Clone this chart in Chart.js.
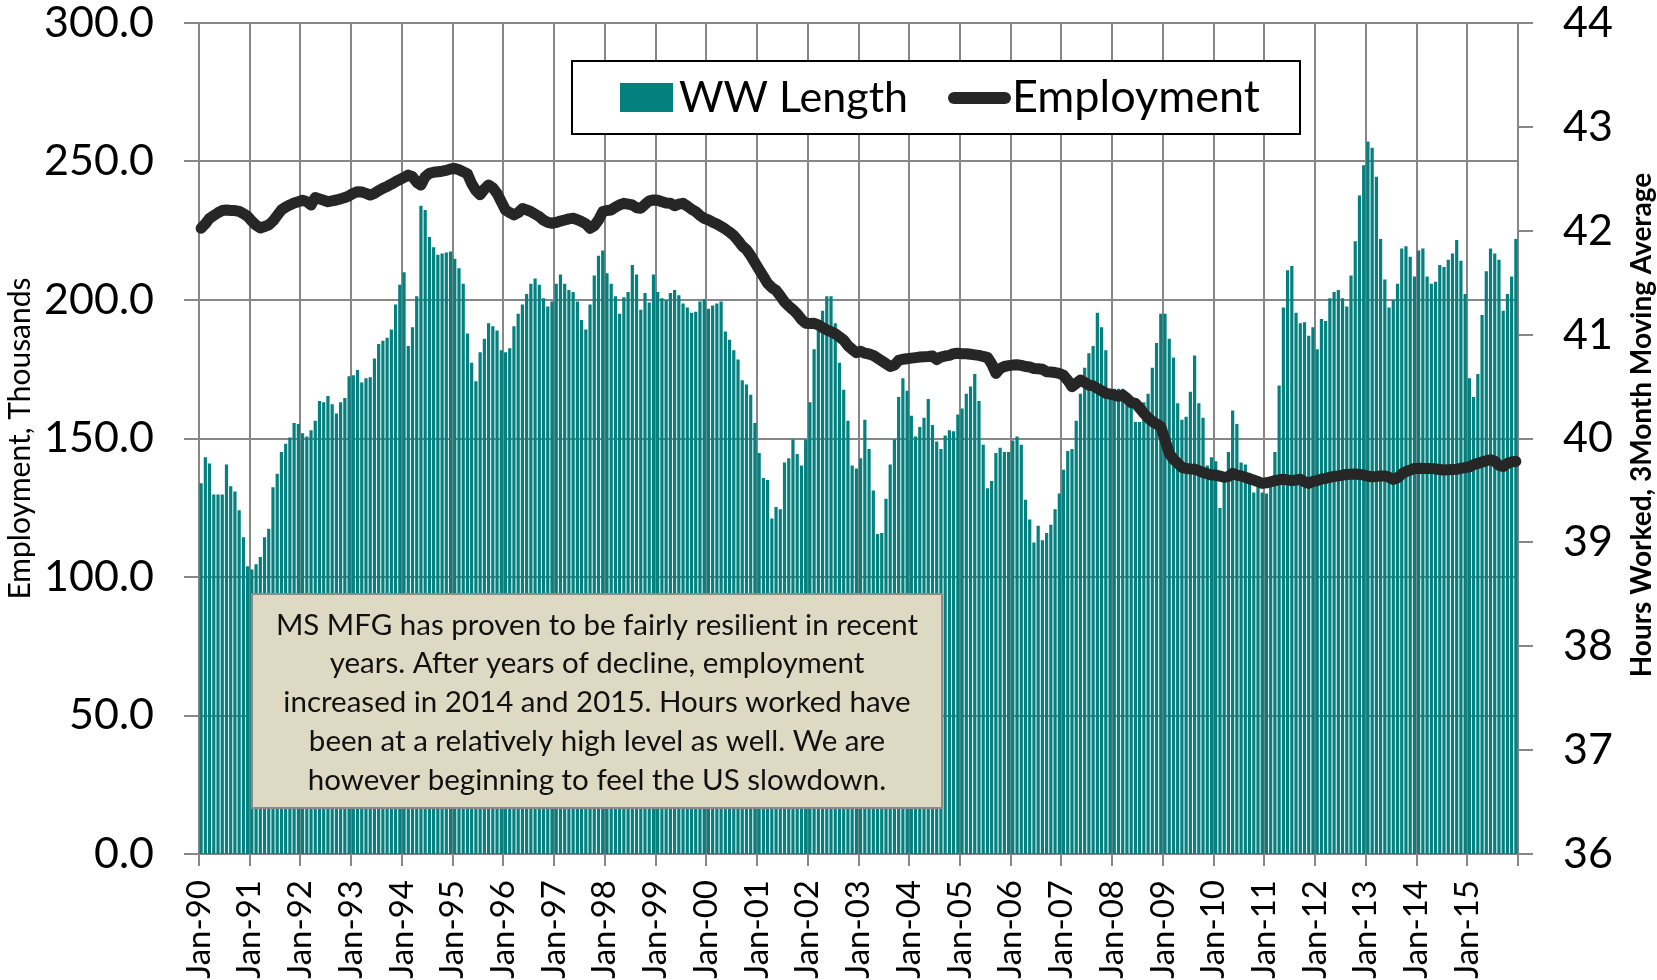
<!DOCTYPE html>
<html>
<head>
<meta charset="utf-8">
<script src="https://cdn.jsdelivr.net/npm/chart.js@4.4.1/dist/chart.umd.min.js"></script>
<style>
  html, body { margin: 0; padding: 0; background: #fff; }
  #wrap { width: 1657px; height: 980px; }
</style>
</head>
<body>
<div id="wrap"><canvas id="chart" width="1657" height="980"></canvas></div>
<script>
// months x years -> one bar per month, Jan-90 .. Dec-15
const monthNames = ["Jan", "Feb", "Mar", "Apr", "May", "Jun", "Jul", "Aug", "Sep", "Oct", "Nov", "Dec"]
const yearLabels = ["90", "91", "92", "93", "94", "95", "96", "97", "98", "99", "00", "01", "02",
  "03", "04", "05", "06", "07", "08", "09", "10", "11", "12", "13", "14", "15"]
const tickLabels = yearLabels.map(y => "Jan-" + y)
const categories = yearLabels.flatMap(y => monthNames.map(m => m + "-" + y))

// WW Length: hours worked, 3 month moving average (right axis)
const hoursWorked = [
  39.57, 39.82, 39.76, 39.46, 39.46, 39.46, 39.75, 39.54, 39.49, 39.31, 39.05, 38.77,
  38.74, 38.79, 38.86, 39.05, 39.13, 39.53, 39.66, 39.87, 39.95, 40.01, 40.15, 40.14,
  40.05, 40.02, 40.08, 40.17, 40.36, 40.35, 40.41, 40.33, 40.24, 40.35, 40.39, 40.60,
  40.61, 40.66, 40.54, 40.58, 40.59, 40.77, 40.91, 40.94, 40.97, 41.05, 41.29, 41.48,
  41.60, 40.89, 41.07, 41.37, 42.24, 42.20, 41.94, 41.84, 41.77, 41.78, 41.79, 41.80,
  41.73, 41.64, 41.49, 41.01, 40.73, 40.55, 40.83, 40.96, 41.11, 41.08, 41.04, 40.85,
  40.83, 40.87, 41.08, 41.20, 41.29, 41.39, 41.49, 41.54, 41.48, 41.35, 41.27, 41.32,
  41.49, 41.58, 41.49, 41.43, 41.41, 41.32, 41.14, 41.05, 41.29, 41.57, 41.76, 41.81,
  41.59, 41.49, 41.37, 41.20, 41.36, 41.41, 41.67, 41.58, 41.24, 41.40, 41.31, 41.58,
  41.41, 41.35, 41.33, 41.40, 41.43, 41.38, 41.30, 41.26, 41.21, 41.22, 41.32, 41.34,
  41.25, 41.28, 41.30, 41.32, 41.03, 40.95, 40.85, 40.76, 40.56, 40.52, 40.42, 40.15,
  39.86, 39.62, 39.60, 39.23, 39.34, 39.32, 39.77, 39.81, 39.99, 39.85, 39.74, 39.99,
  40.35, 40.86, 41.04, 41.23, 41.37, 41.37, 41.11, 40.73, 40.47, 40.17, 39.74, 39.71,
  39.81, 40.18, 39.90, 39.50, 39.08, 39.09, 39.42, 39.75, 39.99, 40.40, 40.58, 40.46,
  40.22, 40.02, 40.11, 40.20, 40.38, 40.13, 39.97, 39.90, 40.03, 40.08, 40.07, 40.23,
  40.29, 40.43, 40.50, 40.62, 40.36, 39.94, 39.52, 39.59, 39.86, 39.91, 39.87, 39.87,
  39.98, 40.02, 39.94, 39.41, 39.22, 39.00, 39.16, 39.02, 39.09, 39.17, 39.32, 39.47,
  39.70, 39.88, 39.90, 40.17, 40.43, 40.68, 40.82, 40.89, 41.21, 41.07, 40.85, 40.48,
  40.48, 40.48, 40.48, 40.40, 40.31, 40.16, 40.16, 40.35, 40.43, 40.68, 40.92, 41.20,
  41.20, 40.96, 40.78, 40.34, 40.18, 40.21, 40.45, 40.80, 40.34, 40.20, 39.74, 39.82,
  39.78, 39.33, 39.60, 39.87, 40.27, 40.14, 39.77, 39.75, 39.67, 39.48, 39.60, 39.48,
  39.47, 39.54, 39.87, 40.51, 41.26, 41.62, 41.66, 41.21, 41.11, 41.12, 40.99, 41.07,
  40.86, 41.15, 41.13, 41.35, 41.41, 41.43, 41.35, 41.27, 41.57, 41.90, 42.34, 42.63,
  42.86, 42.80, 42.52, 41.92, 41.53, 41.26, 41.33, 41.49, 41.83, 41.85, 41.75, 41.56,
  41.81, 41.83, 41.56, 41.49, 41.51, 41.67, 41.65, 41.72, 41.78, 41.91, 41.71, 41.39,
  40.58, 40.40, 40.62, 41.19, 41.61, 41.83, 41.78, 41.72, 41.23, 41.39, 41.56, 41.92
]

// Employment, thousands (left axis)
const employment = [
  225.9, 227.5, 229.5, 230.5, 231.5, 232.3, 232.5, 232.3, 232.3, 232.0, 231.2, 230.2,
  228.5, 227.0, 226.0, 226.5, 227.1, 228.5, 230.5, 232.5, 233.5, 234.3, 235.0, 235.5,
  236.0, 235.5, 234.3, 237.0, 236.5, 236.0, 235.5, 235.8, 236.1, 236.5, 237.0, 237.6,
  238.5, 239.1, 239.0, 238.5, 237.9, 238.5, 239.5, 240.3, 241.0, 241.8, 242.7, 243.5,
  244.3, 245.1, 244.5, 242.5, 241.5, 244.5, 245.7, 246.1, 246.3, 246.5, 246.8, 247.3,
  247.5, 247.0, 246.3, 245.5, 242.0, 239.5, 238.0, 240.0, 241.5, 240.5, 238.5, 235.5,
  232.5, 231.5, 230.7, 231.5, 233.0, 232.5, 231.9, 231.0, 230.1, 228.8, 228.0, 227.7,
  228.0, 228.5, 228.9, 229.3, 229.5, 229.0, 228.3, 227.5, 225.9, 226.8, 228.9, 231.9,
  232.3, 232.5, 233.5, 234.3, 234.9, 234.6, 234.3, 233.3, 233.1, 234.5, 235.8, 236.1,
  236.0, 235.5, 235.0, 234.9, 234.0, 234.6, 234.9, 233.9, 232.8, 231.9, 230.5, 229.5,
  228.9, 228.1, 227.4, 226.5, 225.6, 224.5, 223.3, 221.5, 219.5, 218.2, 216.0, 213.5,
  211.0, 208.5, 206.0, 204.5, 203.5, 201.5, 199.3, 197.8, 196.5, 195.0, 193.0, 191.6,
  191.5, 191.6, 191.0, 190.0, 189.2, 188.5, 187.8, 186.7, 185.5, 183.5, 182.2, 181.0,
  181.5, 180.8, 180.5, 180.0, 179.0, 178.0, 177.0, 176.0, 176.5, 178.2, 178.6, 178.8,
  179.0, 179.2, 179.4, 179.5, 179.6, 179.8, 178.5, 179.4, 179.8, 180.0, 180.6, 180.8,
  180.6, 180.6, 180.4, 180.2, 180.0, 179.6, 179.3, 177.0, 173.5, 175.3, 176.0, 176.3,
  176.5, 176.6, 176.4, 176.0, 175.8, 175.3, 175.2, 175.0, 174.1, 174.0, 173.8, 173.5,
  172.8, 171.0, 168.7, 169.9, 171.1, 170.2, 169.3, 169.0, 168.1, 167.2, 166.3, 166.0,
  165.7, 165.2, 165.7, 164.5, 163.0, 162.7, 161.0, 159.1, 157.5, 156.1, 155.2, 154.3,
  149.5, 144.7, 142.5, 141.1, 139.6, 139.2, 139.0, 138.9, 138.4, 137.7, 137.3, 136.8,
  136.8, 136.4, 136.0, 136.3, 137.4, 136.8, 136.5, 136.0, 135.4, 135.0, 134.4, 133.8,
  134.0, 134.4, 134.8, 135.1, 135.3, 135.0, 134.8, 135.0, 135.3, 134.4, 133.8, 134.5,
  134.8, 135.3, 135.6, 136.0, 136.3, 136.5, 136.8, 137.0, 137.1, 137.2, 137.0, 136.8,
  136.4, 136.2, 136.3, 136.5, 136.5, 136.0, 135.2, 135.8, 137.2, 138.0, 138.6, 139.2,
  139.3, 139.2, 139.2, 139.2, 139.0, 138.8, 138.6, 138.7, 138.8, 138.9, 139.2, 139.5,
  139.8, 140.6, 141.0, 141.5, 142.0, 142.3, 141.8, 140.3, 139.9, 141.0, 141.6, 141.7
]

const noteLines = [
  "MS MFG has proven to be fairly resilient in recent",
  "years. After years of decline, employment",
  "increased in 2014 and 2015. Hours worked have",
  "been at a relatively high level as well. We are",
  "however beginning to feel the US slowdown."
]

const gridColor = "#878787"
const fontFamily = "Lato, 'Open Sans', sans-serif"

// legend drawn inside the plot with a black frame, like the original
const boxLegend = {
  id: "boxLegend",
  afterDraw(chart, args, opts) {
    const ctx = chart.ctx
    const [bars, line] = chart.data.datasets
    ctx.save()
    ctx.fillStyle = "#fff"
    ctx.fillRect(opts.left, opts.top, opts.width, opts.height)
    ctx.strokeStyle = "#000"
    ctx.lineWidth = 2
    ctx.strokeRect(opts.left, opts.top, opts.width, opts.height)

    ctx.textBaseline = "alphabetic"
    ctx.fillStyle = bars.backgroundColor
    ctx.fillRect(620, 83, 53, 29)
    ctx.fillStyle = "#000"
    ctx.font = "43px " + fontFamily
    ctx.fillText(bars.label, 679, 112)

    ctx.strokeStyle = line.borderColor
    ctx.lineWidth = 12
    ctx.lineCap = "round"
    ctx.beginPath()
    ctx.moveTo(954, 98)
    ctx.lineTo(1005, 98)
    ctx.stroke()
    ctx.font = "45px " + fontFamily
    ctx.fillText(line.label, 1012, 112)
    ctx.restore()
  }
}

// commentary box
const noteBox = {
  id: "noteBox",
  afterDraw(chart, args, opts) {
    const ctx = chart.ctx
    ctx.save()
    ctx.fillStyle = "#ddd9c3"
    ctx.fillRect(opts.left, opts.top, opts.width, opts.height)
    ctx.strokeStyle = "#8c8c8c"
    ctx.lineWidth = 2
    ctx.strokeRect(opts.left, opts.top, opts.width, opts.height)
    ctx.fillStyle = "#111"
    ctx.font = "29.5px " + fontFamily
    ctx.textAlign = "center"
    ctx.textBaseline = "middle"
    const cx = opts.left + opts.width / 2
    noteLines.forEach((t, i) => ctx.fillText(t, cx, opts.top + 31 + i * 38.8))
    ctx.restore()
  }
}

// right axis title reads bottom-to-top in the original
const rightTitle = {
  id: "rightTitle",
  afterDraw(chart, args, opts) {
    const ctx = chart.ctx
    ctx.save()
    ctx.translate(opts.x, opts.y)
    ctx.rotate(-Math.PI / 2)
    ctx.font = "bold 28px " + fontFamily
    ctx.fillStyle = "#000"
    ctx.textAlign = "center"
    ctx.textBaseline = "middle"
    ctx.fillText(opts.text, 0, 0)
    ctx.restore()
  }
}

// keep the tick-label gap without pushing the plot top down
function fixVertical(width) {
  return scale => {
    scale.width = width
    scale.paddingTop = 0
    scale.paddingBottom = 0
  }
}

new Chart(document.getElementById("chart"), {
  data: {
    labels: categories,
    datasets: [
      {
        type: "bar",
        label: "WW Length",
        data: hoursWorked,
        yAxisID: "y1",
        backgroundColor: "#04807f",
        barPercentage: 0.76,
        categoryPercentage: 1,
        order: 2
      },
      {
        type: "line",
        label: "Employment",
        data: employment,
        yAxisID: "y",
        borderColor: "#262626",
        borderWidth: 11,
        borderCapStyle: "round",
        borderJoinStyle: "round",
        pointRadius: 0,
        tension: 0,
        order: 1
      }
    ]
  },
  options: {
    responsive: false,
    animation: false,
    devicePixelRatio: 1,
    layout: { padding: { top: 23, left: 0, right: 0, bottom: 0 } },
    plugins: {
      legend: { display: false },
      tooltip: { enabled: false },
      boxLegend: { left: 572, top: 61, width: 728, height: 73 },
      noteBox: { left: 252, top: 594, width: 690, height: 214 },
      rightTitle: { x: 1642, y: 425, text: "Hours Worked, 3Month Moving Average" }
    },
    scales: {
      x: {
        type: "category",
        display: false,
        offset: true,
        grid: { display: false }
      },
      xYear: {
        type: "linear",
        position: "bottom",
        min: 0,
        max: 312,
        afterFit(scale) { scale.height = 126 },
        grid: { color: gridColor, lineWidth: 2, tickLength: 12 },
        border: { color: gridColor, width: 2 },
        ticks: {
          stepSize: 12,
          autoSkip: false,
          maxRotation: 90,
          minRotation: 90,
          padding: 14,
          color: "#000",
          font: { family: fontFamily, size: 33 },
          callback: v => tickLabels[v / 12] ?? ""
        }
      },
      y: {
        position: "left",
        min: 0,
        max: 300,
        afterFit: fixVertical(199),
        grid: { color: gridColor, lineWidth: 2, tickLength: 15 },
        border: { color: gridColor, width: 2 },
        ticks: {
          stepSize: 50,
          padding: 30,
          color: "#000",
          font: { family: fontFamily, size: 43, lineHeight: 1 },
          callback: v => v.toFixed(1)
        },
        title: {
          display: true,
          text: "Employment, Thousands",
          color: "#000",
          font: { family: fontFamily, size: 30 },
          padding: { top: 2, bottom: 0 }
        }
      },
      y1: {
        position: "right",
        min: 36,
        max: 44,
        afterFit: fixVertical(139),
        grid: { drawOnChartArea: false, color: gridColor, lineWidth: 2, tickLength: 15 },
        border: { color: gridColor, width: 2 },
        ticks: {
          stepSize: 1,
          padding: 30,
          color: "#000",
          font: { family: fontFamily, size: 43, lineHeight: 1 }
        }
      }
    }
  },
  plugins: [boxLegend, noteBox, rightTitle]
})
</script>
</body>
</html>
